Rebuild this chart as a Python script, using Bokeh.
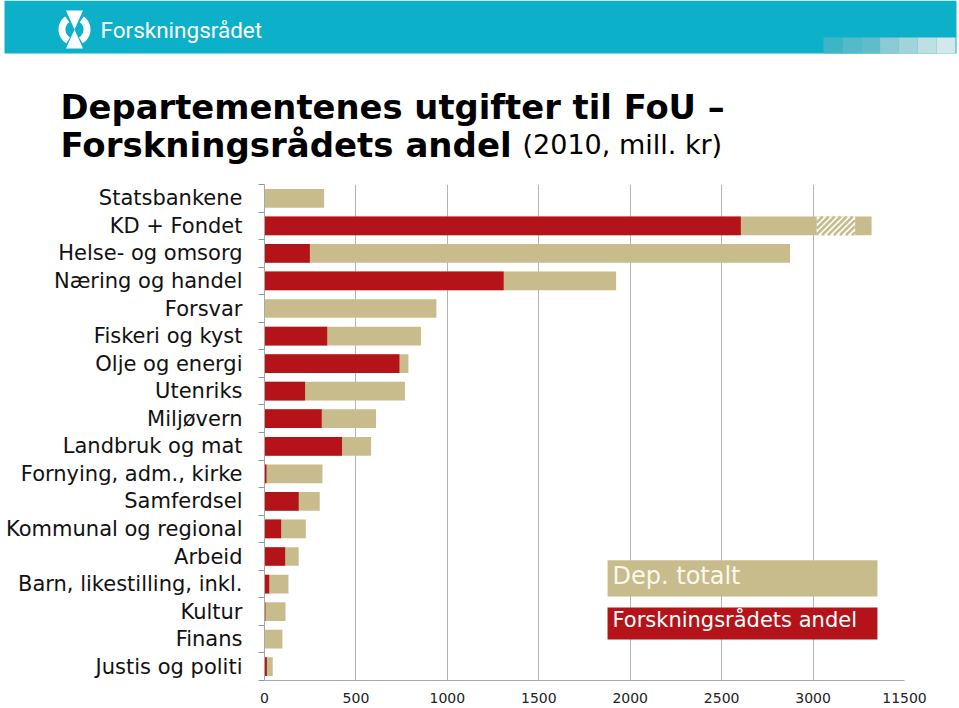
import numpy as np
from bokeh.plotting import figure
from bokeh.layouts import column
from bokeh.models import Range1d, FixedTicker, ColumnDataSource
from bokeh.core.properties import value
from bokeh.embed import file_html
from bokeh.resources import INLINE

# ---------------- data ----------------
categories = ["Statsbankene", "KD + Fondet", "Helse- og omsorg", "Næring og handel",
              "Forsvar", "Fiskeri og kyst", "Olje og energi", "Utenriks", "Miljøvern",
              "Landbruk og mat", "Fornying, adm., kirke", "Samferdsel",
              "Kommunal og regional", "Arbeid", "Barn, likestilling, inkl.", "Kultur",
              "Finans", "Justis og politi"]
dep_total = [326, 11320, 2874, 1923, 940, 856, 787, 768, 610, 583, 317, 302, 226, 187,
             131, 115, 98, 45]
frd_andel = [0, 2605, 248, 1308, 0, 343, 738, 222, 313, 424, 11, 187, 91, 113, 26, 5,
             0, 13]
axis_break_start = 3020      # display value where the broken axis starts
axis_break_end = 3230        # display value where it ends
axis_break_offset = 8000     # values beyond the break are shifted by this
x_ticks = [0, 500, 1000, 1500, 2000, 2500, 3000, 3500]

TAN = "#c8bc8c"
RED = "#b41419"
TEAL = "#0cb0c8"
FONT = "DejaVu Sans"

n = len(categories)
ypos = [n - 1 - i for i in range(n)]
disp_total = [v - axis_break_offset if v > axis_break_start + axis_break_offset else v
              for v in dep_total]
broken = [v > axis_break_start + axis_break_offset for v in dep_total]

W = 959
# ---------------- header ----------------
HH = 178
head = figure(width=W, height=HH, x_range=Range1d(0, W), y_range=Range1d(HH, 0),
              x_axis_type=None, y_axis_type=None, toolbar_location=None,
              output_backend="svg", min_border=0, outline_line_color=None)
head.grid.visible = False
head.quad(left=[4], right=[956], top=[0], bottom=[53], fill_color=TEAL, line_color=None)
sq_cols = ["#3eb5c6", "#52bac9", "#5fbdca", "#8ccbd4", "#a0d3da", "#c0dfe3", "#d4e8eb"]
sq_w = 132 / len(sq_cols)
head.quad(left=[823 + i * sq_w for i in range(len(sq_cols))],
          right=[823 + (i + 1) * sq_w for i in range(len(sq_cols))],
          top=[37] * len(sq_cols), bottom=[53] * len(sq_cols),
          fill_color=sq_cols, line_color=None)
# logo icon
cx, cy = 74, 29
head.patches(xs=[[cx - 8.5, cx + 8.5, cx], [cx - 8.5, cx + 8.5, cx]],
             ys=[[cy - 19, cy - 19, cy], [cy + 19, cy + 19, cy]],
             fill_color="white", line_color=None)
for a0, a1 in [(125, 240), (-60, 55)]:
    t = np.radians(np.linspace(a0, a1, 30))
    ro, ri = 16, 9
    xs = list(cx + ro * np.cos(t)) + list(cx + ri * np.cos(t[::-1]))
    ys = list(cy - ro * np.sin(t)) + list(cy - ri * np.sin(t[::-1]))
    head.patch(xs, ys, fill_color="white", line_color=None)
head.text(x=[100], y=[29], text=["Forskningsrådet"], text_color="white",
          text_font=value("Roboto"), text_font_size="22.5px",
          text_baseline="alphabetic")
# title
head.text(x=[60], y=[107], text=["Departementenes utgifter til FoU –"],
          text_font=value(FONT), text_font_style="bold", text_font_size="33.8px",
          text_color="black", text_baseline="alphabetic")
head.text(x=[60], y=[144], text=["Forskningsrådets andel"],
          text_font=value(FONT), text_font_style="bold", text_font_size="34px",
          text_color="black", text_baseline="alphabetic")
head.text(x=[522], y=[144], text=["(2010, mill. kr)"],
          text_font=value(FONT), text_font_size="27px",
          text_color="black", text_baseline="alphabetic")

# ---------------- chart ----------------
p = figure(width=W, height=708 - HH, x_range=Range1d(0, 3500),
           y_range=Range1d(-0.5, n - 0.5), toolbar_location=None,
           output_backend="svg", min_border_left=264, min_border_right=55,
           min_border_top=6, min_border_bottom=28, outline_line_color=None)
for plot in (head, p):
    try:
        plot.frame_align = False
    except Exception:
        pass

src = ColumnDataSource(dict(y=ypos, total=disp_total, frd=frd_andel))
BH = 0.68
p.hbar(y="y", left=0, right="total", height=BH, source=src,
       fill_color=TAN, line_color=None)

# broken-axis hatch (white band with diagonal tan stripes)
sx = 640 / 3500.0          # px per x unit
sy = 496 / float(n)        # px per y unit
by = [ypos[i] for i in range(n) if broken[i]]
p.hbar(y=by, left=[axis_break_start] * len(by), right=[axis_break_end] * len(by),
       height=BH, fill_color="white", line_color=None)
x0s, y0s, x1s, y1s = [], [], [], []
Wp = (axis_break_end - axis_break_start) * sx
Hp = BH * sy
for yc in by:
    for c in np.arange(-Hp, Wp, 6.0):
        u0, u1 = max(0.0, c), min(Wp, c + Hp)
        if u1 <= u0:
            continue
        x0s.append(axis_break_start + u0 / sx)
        x1s.append(axis_break_start + u1 / sx)
        y0s.append(yc - BH / 2 + (u0 - c) / sy)
        y1s.append(yc - BH / 2 + (u1 - c) / sy)
p.segment(x0=x0s, y0=y0s, x1=x1s, y1=y1s, line_color=TAN, line_width=2.6)

p.hbar(y="y", left=0, right="frd", height=BH, source=src,
       fill_color=RED, line_color=None)

# legend boxes
p.quad(left=[1876], right=[3352], top=[3.86], bottom=[2.55],
       fill_color=TAN, line_color=None)
p.quad(left=[1876], right=[3352], top=[2.15], bottom=[0.99],
       fill_color=RED, line_color=None)
p.text(x=[1903], y=[3.31], text=["Dep. totalt"], text_color="#fbf8ee",
       text_font=value(FONT), text_font_size="24px", text_baseline="alphabetic")
p.text(x=[1903], y=[1.70], text=["Forskningsrådets andel"], text_color="white",
       text_font=value(FONT), text_font_size="21px", text_baseline="alphabetic")

# axes
p.ygrid.visible = False
p.xgrid.grid_line_color = "#b4b4b4"
p.xgrid.ticker = FixedTicker(ticks=x_ticks)

xa = p.xaxis[0]
xa.ticker = FixedTicker(ticks=x_ticks)
xa.major_label_overrides = {x_ticks[-1]: str(x_ticks[-1] + axis_break_offset)}
xa.axis_line_color = "#a8a8a8"
xa.major_tick_out = 0
xa.major_tick_in = 0
xa.minor_tick_out = 0
xa.minor_tick_in = 0
xa.major_label_standoff = 12
xa.major_label_text_font = FONT
xa.major_label_text_font_size = "14px"
xa.major_label_text_color = "#222222"

ya = p.yaxis[0]
ya.ticker = FixedTicker(ticks=ypos, minor_ticks=[k - 0.5 for k in range(n + 1)])
ya.major_label_overrides = {ypos[i]: categories[i] for i in range(n)}
ya.axis_line_color = "#a8a8a8"
ya.major_tick_out = 0
ya.major_tick_in = 0
ya.minor_tick_out = 6
ya.minor_tick_in = 0
ya.minor_tick_line_color = "#8a9ab0"
ya.major_label_standoff = 16
ya.major_label_text_font = FONT
ya.major_label_text_font_size = "21px"
ya.major_label_text_color = "#111111"

layout = column(head, p)
open("out.html", "w").write(file_html(layout, INLINE))
